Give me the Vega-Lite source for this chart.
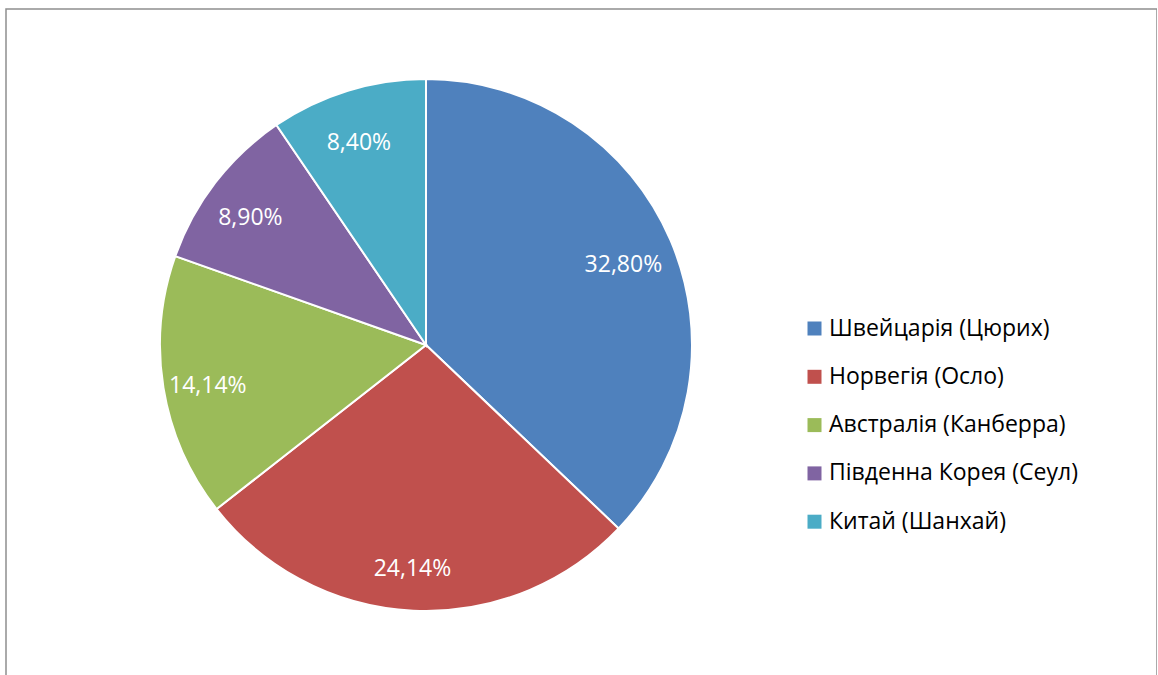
{
  "$schema": "https://vega.github.io/schema/vega-lite/v6.json",
  "autosize": "none",
  "width": 1151,
  "height": 700,
  "padding": {"left": 6, "top": 9, "right": 0, "bottom": 0},
  "background": "white",
  "view": {"stroke": "#8f8f8f", "strokeWidth": 1.5},
  "config": {
    "view": {"stroke": "#8f8f8f", "strokeWidth": 1.5},
    "font": "Open Sans"
  },
  "data": {
    "values": [
      {"city": "Швейцарія (Цюрих)", "value": 32.80, "label": "32,80%", "ord": 1},
      {"city": "Норвегія (Осло)", "value": 24.14, "label": "24,14%", "ord": 2},
      {"city": "Австралія (Канберра)", "value": 14.14, "label": "14,14%", "ord": 3},
      {"city": "Південна Корея (Сеул)", "value": 8.90, "label": "8,90%", "ord": 4},
      {"city": "Китай (Шанхай)", "value": 8.40, "label": "8,40%", "ord": 5}
    ]
  },
  "encoding": {
    "theta": {"field": "value", "type": "quantitative", "stack": true},
    "order": {"field": "ord", "type": "quantitative"},
    "color": {
      "field": "city",
      "type": "nominal",
      "scale": {
        "domain": ["Швейцарія (Цюрих)", "Норвегія (Осло)", "Австралія (Канберра)", "Південна Корея (Сеул)", "Китай (Шанхай)"],
        "range": ["#4F81BD", "#C0504D", "#9BBB59", "#8064A2", "#4BACC6"]
      },
      "legend": {
        "title": null,
        "orient": "none",
        "legendX": 797,
        "legendY": 308,
        "padding": 0,
        "symbolType": "square",
        "symbolSize": 196,
        "symbolStrokeWidth": 0,
        "labelFont": "Open Sans",
        "labelFontSize": 23,
        "labelColor": "#000000",
        "labelOffset": 3,
        "rowPadding": 24.3,
        "labelLimit": 400
      }
    }
  },
  "layer": [
    {
      "mark": {"type": "arc", "outerRadius": 266, "x": 420, "y": 336, "stroke": "white", "strokeWidth": 2}
    },
    {
      "mark": {"type": "text", "radius": 218, "x": 417, "y": 342, "fill": "white", "fontSize": 23, "font": "Open Sans", "align": "center", "baseline": "middle"},
      "encoding": {
        "text": {"field": "label", "type": "nominal"},
        "color": {"value": "white"}
      }
    }
  ]
}
